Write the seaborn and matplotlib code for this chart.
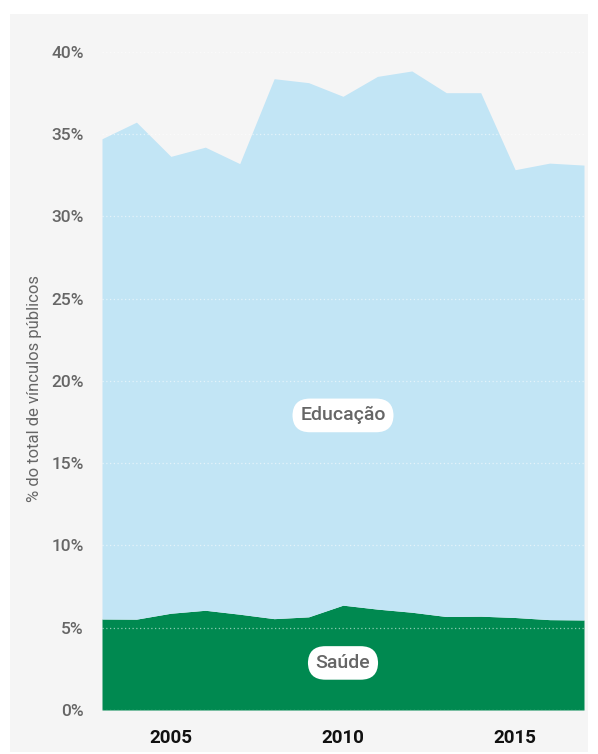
import matplotlib
matplotlib.use("Agg")
import matplotlib.pyplot as plt
from matplotlib.patches import Rectangle
import seaborn as sns
import pandas as pd

# Dados
anos = [2003, 2004, 2005, 2006, 2007, 2008, 2009, 2010,
        2011, 2012, 2013, 2014, 2015, 2016, 2017]
saude = [5.53, 5.52, 5.88, 6.06, 5.82, 5.55, 5.66, 6.37,
         6.13, 5.94, 5.68, 5.70, 5.62, 5.49, 5.47]
educacao = [29.18, 30.20, 27.76, 28.14, 27.38, 32.81, 32.46, 30.92,
            32.37, 32.89, 31.83, 31.81, 27.21, 27.74, 27.64]
yticks = [0, 5, 10, 15, 20, 25, 30, 35, 40]
xticks = [2005, 2010, 2015]

COR_SAUDE = "#008950"
COR_EDUC = "#c2e5f5"
FUNDO = "#f5f5f5"

sns.set_style("white")
plt.rcParams["font.family"] = ["Roboto", "DejaVu Sans"]

df = pd.DataFrame({"ano": anos, "Saúde": saude, "Educação": educacao})

fig = plt.figure(figsize=(5.98, 7.54), dpi=100)
fig.patch.set_facecolor("white")
fig.patches.append(Rectangle((10 / 598, 2 / 754), 578 / 598, 738 / 754,
                             transform=fig.transFigure, facecolor=FUNDO,
                             edgecolor="none", zorder=-10))

ax = fig.add_axes([102 / 598, 1 - 710 / 754, 482 / 598, (710 - 51.7) / 754])
ax.set_facecolor("none")

ax.stackplot(df["ano"], df["Saúde"], df["Educação"],
             colors=[COR_SAUDE, COR_EDUC], linewidth=0, zorder=1)

# grade pontilhada por cima das áreas
for v in yticks:
    ax.axhline(v, color="white", linestyle=(0, (1, 2)), linewidth=0.9,
               alpha=0.55, zorder=2)

ax.set_xlim(2003, 2017)
ax.set_ylim(0, 40)
ax.set_yticks(yticks)
ax.set_yticklabels([f"{v}%" for v in yticks])
ax.set_xticks(xticks)
ax.set_xticklabels([str(v) for v in xticks])
ax.tick_params(axis="y", length=0, pad=13, labelsize=12.5, labelcolor="#666666")
ax.tick_params(axis="x", length=0, pad=14, labelsize=13.5, labelcolor="#111111")
for lbl in ax.get_xticklabels():
    lbl.set_fontweight("semibold")
for lbl in ax.get_yticklabels():
    lbl.set_fontweight("medium")
sns.despine(ax=ax, left=True, bottom=True)

fig.text(35 / 598, 1 - 388 / 754, "% do total de vínculos públicos",
         rotation=90, ha="center", va="center", fontsize=12, color="#666666")

caixa = dict(boxstyle="round,pad=0.4,rounding_size=0.9", fc="white", ec="none")
ax.text(2010, 17.9, "Educação", ha="center", va="center", fontsize=14,
        color="#666666", fontweight="medium", bbox=caixa, zorder=3)
ax.text(2010, 2.86, "Saúde", ha="center", va="center", fontsize=14,
        color="#666666", fontweight="medium", bbox=caixa, zorder=3)

fig.savefig("out.png", dpi=100, facecolor=fig.get_facecolor())
